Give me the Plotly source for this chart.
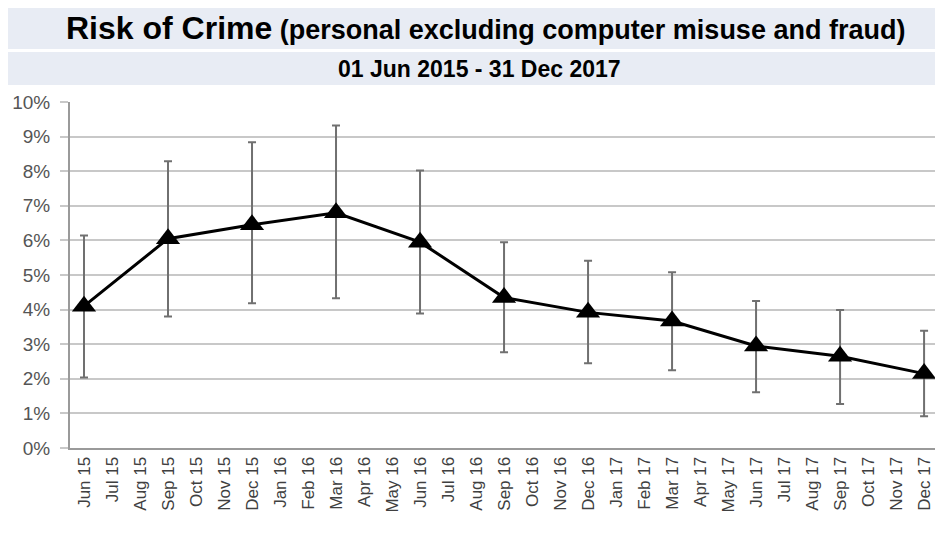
import plotly.graph_objects as go

# monthly category axis
months = ["Jun 15", "Jul 15", "Aug 15", "Sep 15", "Oct 15", "Nov 15", "Dec 15",
          "Jan 16", "Feb 16", "Mar 16", "Apr 16", "May 16", "Jun 16", "Jul 16",
          "Aug 16", "Sep 16", "Oct 16", "Nov 16", "Dec 16", "Jan 17", "Feb 17",
          "Mar 17", "Apr 17", "May 17", "Jun 17", "Jul 17", "Aug 17", "Sep 17",
          "Oct 17", "Nov 17", "Dec 17"]

# quarterly estimates (%)
points = ["Jun 15", "Sep 15", "Dec 15", "Mar 16", "Jun 16", "Sep 16",
          "Dec 16", "Mar 17", "Jun 17", "Sep 17", "Dec 17"]
risk = [4.1, 6.05, 6.45, 6.8, 5.95, 4.35, 3.92, 3.67, 2.95, 2.65, 2.15]
upper = [6.14, 8.29, 8.84, 9.32, 8.02, 5.95, 5.41, 5.08, 4.25, 3.99, 3.39]
lower = [2.04, 3.80, 4.18, 4.33, 3.89, 2.77, 2.45, 2.25, 1.61, 1.27, 0.92]

err_plus = [u - r for u, r in zip(upper, risk)]
err_minus = [r - l for r, l in zip(risk, lower)]

fig = go.Figure()
fig.add_trace(go.Scatter(
    x=points, y=risk, mode="lines+markers",
    line=dict(color="black", width=3),
    marker=dict(symbol="triangle-up", size=21, color="black"),
    error_y=dict(type="data", array=err_plus, arrayminus=err_minus,
                 color="#707070", thickness=2, width=4),
    showlegend=False,
))

# title bands (paper coords, plot area is 865 x 346 px)
band = "#e8ecf4"
fig.add_shape(type="rect", xref="paper", yref="paper",
              x0=-62 / 865, x1=1.0, y0=1.0 + 53 / 346, y1=1.0 + 94 / 346,
              fillcolor=band, line_width=0, layer="below")
fig.add_shape(type="rect", xref="paper", yref="paper",
              x0=-62 / 865, x1=1.0, y0=1.0 + 17 / 346, y1=1.0 + 50 / 346,
              fillcolor=band, line_width=0, layer="below")

fig.add_annotation(
    xref="paper", yref="paper", x=0.48, y=1.0 + 74 / 346, showarrow=False,
    text="<b><span style='font-size:32px'>Risk of Crime</span> (personal excluding computer misuse and fraud)</b>",
    font=dict(family="Liberation Sans, Arial, sans-serif", size=27, color="black"),
    yanchor="middle",
)
fig.add_annotation(
    xref="paper", yref="paper", x=0.473, y=1.0 + 33 / 346, showarrow=False,
    text="<b>01 Jun 2015 - 31 Dec 2017</b>",
    font=dict(family="Liberation Sans, Arial, sans-serif", size=23, color="black"),
    yanchor="middle",
)

fig.update_xaxes(
    type="category", categoryorder="array", categoryarray=months,
    tickvals=months, ticktext=months, range=[-0.5, 30.39],
    tickangle=-90, showgrid=False, showline=True, linecolor="#9a9a9a", linewidth=2,
    tickfont=dict(family="Liberation Sans, Arial, sans-serif", size=17, color="#404040"),
)
fig.update_yaxes(
    range=[0, 10], dtick=1, ticksuffix="%",
    showgrid=True, gridcolor="#c8c8c8", gridwidth=2,
    showline=True, linecolor="#9a9a9a", linewidth=2,
    ticks="outside", ticklen=8, tickcolor="#c8c8c8", tickwidth=2,
    ticklabelstandoff=6, zeroline=False,
    tickfont=dict(family="Liberation Sans, Arial, sans-serif", size=19, color="#555555"),
)

fig.update_layout(
    width=927, height=518,
    margin=dict(l=62, r=0, t=94, b=78),
    plot_bgcolor="white", paper_bgcolor="white",
)

fig.write_html("out.html")
